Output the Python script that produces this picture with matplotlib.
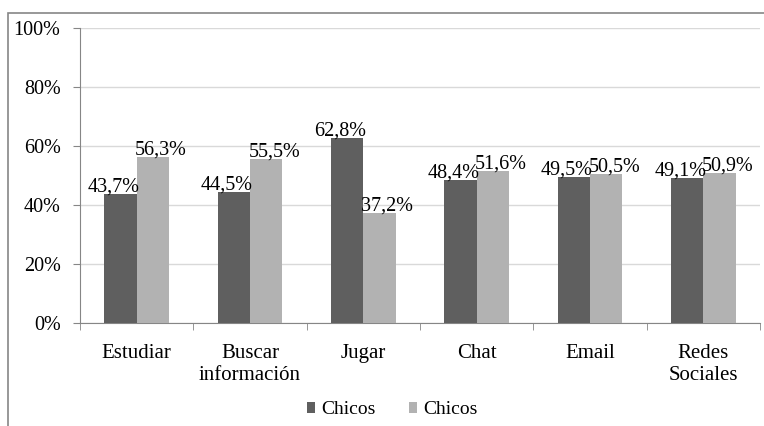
import numpy as np
import matplotlib.pyplot as plt
from matplotlib.patches import Rectangle

# data
categories = ['Estudiar', 'Buscar\ninformación', 'Jugar', 'Chat', 'Email', 'Redes\nSociales']
chicos_a = [43.7, 44.5, 62.8, 48.4, 49.5, 49.1]
chicos_b = [56.3, 55.5, 37.2, 51.6, 50.5, 50.9]
legend_labels = ['Chicos', 'Chicos']
yticks = [0, 20, 40, 60, 80, 100]

plt.rcParams['font.family'] = ['Liberation Serif', 'DejaVu Serif']
FS = 14.5

fig = plt.figure(figsize=(7.64, 4.26), dpi=100)
# outer frame
fig.patches.append(Rectangle((8 / 764, -0.1), 1.2, 1 - 13 / 426 + 0.1, transform=fig.transFigure,
                             fill=False, edgecolor='#868686', linewidth=1.2))

ax = fig.add_axes([80 / 764, 1 - 323 / 426, 680 / 764, 295 / 426])
x = np.arange(len(categories))
w = 0.285
b1 = ax.bar(x - w / 2, chicos_a, w, color='#5f5f5f', label=legend_labels[0], zorder=3)
b2 = ax.bar(x + w / 2, chicos_b, w, color='#b2b2b2', label=legend_labels[1], zorder=3)

# labels sit right on top of the bars, dark ones nudged left, light ones right
for bars, vals, dx in ((b1, chicos_a, -7), (b2, chicos_b, 8)):
    for r, v in zip(bars, vals):
        ax.annotate(f'{v:.1f}%'.replace('.', ','), (r.get_x() + r.get_width() / 2, v),
                    xytext=(dx, 2.5), textcoords='offset pixels',
                    ha='center', va='baseline', fontsize=FS, zorder=4)

ax.set_xlim(-0.5, len(categories) - 0.5)
ax.set_ylim(0, 100)
ax.set_yticks(yticks)
ax.set_yticklabels([f'{t}%' for t in yticks], fontsize=FS)
ax.yaxis.grid(True, color='#d9d9d9', linewidth=1, zorder=0)

ax.set_xticks(x)
ax.set_xticklabels(categories, fontsize=15, linespacing=1.25)
ax.tick_params(axis='x', length=0, pad=15)
ax.set_xticks(np.arange(len(categories) + 1) - 0.5, minor=True)
ax.tick_params(axis='x', which='minor', length=5, color='#868686')
ax.tick_params(axis='y', length=5, color='#868686', pad=9)

for s in ('top', 'right'):
    ax.spines[s].set_visible(False)
for s in ('left', 'bottom'):
    ax.spines[s].set_color('#868686')

ax.legend(loc='center', bbox_to_anchor=(392 / 764, 1 - 410 / 426), bbox_transform=fig.transFigure,
          ncol=2, frameon=False, fontsize=14, handlelength=0.45, handleheight=0.45,
          columnspacing=1.7, handletextpad=0.3)

fig.savefig('out.png', dpi=100)
